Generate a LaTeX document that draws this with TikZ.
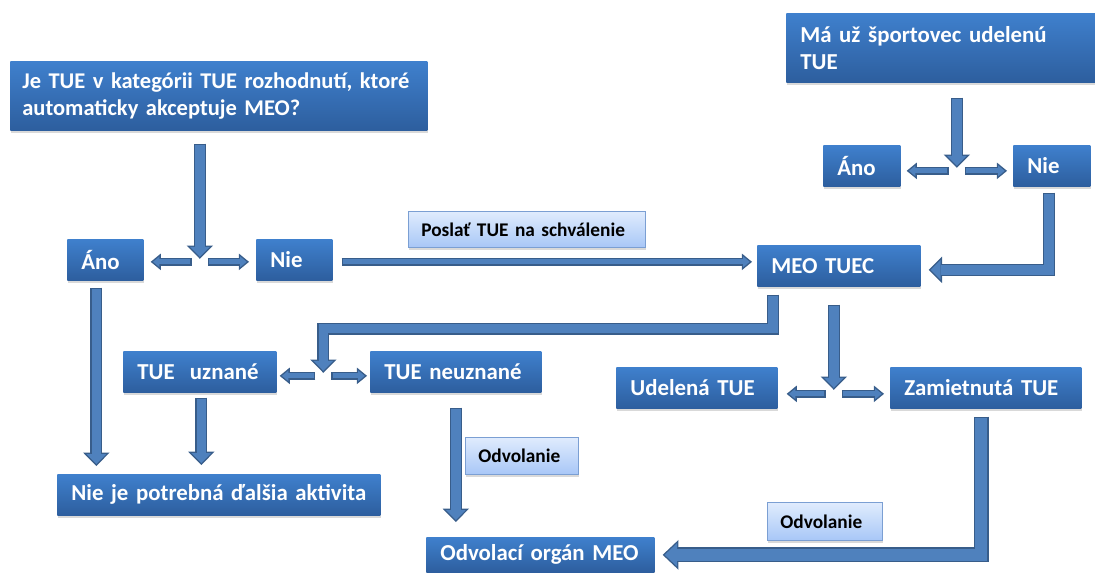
\documentclass[tikz,border=0pt]{standalone}
\usepackage{fontspec}
\setmainfont{Carlito}
\usepackage{tikz}
\usetikzlibrary{arrows.meta,positioning,shadows,calc}

\definecolor{boxtop}{HTML}{3F80CD}
\definecolor{boxbot}{HTML}{2D5E9E}
\definecolor{lbltop}{HTML}{E0ECFD}
\definecolor{lblbot}{HTML}{A8C7F7}
\definecolor{lblline}{HTML}{7B9FD3}
\definecolor{arrline}{HTML}{385D8A}
\definecolor{arrfill}{HTML}{4F81BD}

\newcommand{\blkarrow}[2]{\draw[#1 out] #2; \draw[#1 in] #2;}

\begin{document}
\begin{tikzpicture}[
  x=0.02cm, y=-0.02cm,
  box/.style={anchor=north west, top color=boxtop, bottom color=boxbot,
              text=white, font=\bfseries\fontsize{13}{15.5}\selectfont,
              align=left, inner xsep=0.28cm, inner ysep=0pt,
              minimum height=0.82cm,
              drop shadow={shadow xshift=0.6pt, shadow yshift=-1.6pt, opacity=0.3}},
  lbl/.style={anchor=north west, draw=lblline, top color=lbltop, bottom color=lblbot,
              font=\bfseries\fontsize{11}{13}\selectfont, align=left,
              inner xsep=0.26cm, inner ysep=0pt, minimum height=0.74cm,
              drop shadow={shadow xshift=0.6pt, shadow yshift=-1.6pt, opacity=0.3}},
  big out/.style={draw=arrline, line width=7pt,
                  -{Triangle[length=7.6pt, width=15pt, line width=0pt]}},
  big in/.style={draw=arrfill, line width=5.4pt, shorten <=0.8pt, shorten >=1.14pt,
                 -{Triangle[length=5.66pt, width=11.2pt, line width=0pt]}},
  small out/.style={draw=arrline, line width=4.6pt,
                    -{Triangle[length=5.8pt, width=9.5pt, line width=0pt]}},
  small in/.style={draw=arrfill, line width=3pt, shorten <=0.8pt, shorten >=1.3pt,
                   -{Triangle[length=3.7pt, width=6.1pt, line width=0pt]}},
  huge out/.style={draw=arrline, line width=8.5pt,
                   -{Triangle[length=9pt, width=17pt, line width=0pt]}},
  huge in/.style={draw=arrfill, line width=6.9pt, shorten <=0.8pt, shorten >=1.16pt,
                  -{Triangle[length=7.04pt, width=13.3pt, line width=0pt]}}
]
\useasboundingbox (0,0) rectangle (1095,572);

\node[box, minimum height=1.38cm, inner xsep=0.24cm, text width=7.86cm,
      font=\bfseries\fontsize{12.8}{15.5}\selectfont] (q1) at (10,61)
  {Je TUE v kategórii TUE rozhodnutí, ktoré\\automaticky akceptuje MEO?};
\node[box, minimum height=1.38cm, text width=5.64cm] (q2) at (786,13)
  {Má už športovec udelenú\\TUE};
\node[box, text width=0.96cm] (ano1) at (67,239) {Áno};
\node[box, text width=0.96cm] (nie1) at (256,239) {Nie};
\node[box, text width=0.98cm] (ano2) at (823,145) {Áno};
\node[box, text width=0.98cm] (nie2) at (1013,145) {Nie};
\node[box, text width=2.70cm] (meo) at (757,245) {MEO TUEC};
\node[box, text width=2.50cm] (uzn) at (123,351) {TUE\ \ uznané};
\node[box, text width=2.86cm] (neuzn) at (370,351) {TUE neuznané};
\node[box, text width=2.66cm] (udel) at (616,367) {Udelená TUE};
\node[box, text width=3.26cm] (zam) at (890,367) {Zamietnutá TUE};
\node[box, text width=5.90cm] (nieje) at (57,474) {Nie je potrebná ďalšia aktivita};
\node[box, minimum height=0.70cm, text width=4.00cm] (odv) at (426,537) {Odvolací orgán MEO};

\node[lbl, minimum height=0.72cm, text width=4.22cm] (posl) at (408,211) {Poslať TUE na schválenie};
\node[lbl, text width=1.74cm] (odvl1) at (465,437) {Odvolanie};
\node[lbl, minimum height=0.76cm, text width=1.78cm] (odvl2) at (767,502) {Odvolanie};

\coordinate (s1) at ($(ano1.east)!0.5!(nie1.west)$);
\coordinate (s2) at ($(ano2.east)!0.5!(nie2.west)$);
\coordinate (s3) at ($(uzn.east)!0.5!(neuzn.west)$);
\coordinate (s4) at ($(udel.east)!0.5!(zam.west)$);

\blkarrow{big}{($(q1.south -| s1)+(0,13)$) -- ($(s1)+(0,-1)$)}
\blkarrow{small}{($(s1)+(-8,2)$) -- ($(ano1.east |- s1)+(7,2)$)}
\blkarrow{small}{($(s1)+(8,2)$) -- ($(nie1.west |- s1)+(-7,2)$)}
\blkarrow{small}{($(nie1.east)+(9,2)$) -- ($(nie1.east -| meo.west)+(-5,2)$)}

\blkarrow{big}{($(q2.south -| s2)+(0,15)$) -- ($(s2)+(0,2)$)}
\blkarrow{small}{($(s2)+(-8,5)$) -- ($(ano2.east |- s2)+(6,5)$)}
\blkarrow{small}{($(s2)+(8,5)$) -- ($(nie2.west |- s2)+(-6,5)$)}
\blkarrow{big}{($(nie2.south)+(-3,6)$) |- ($(meo.east)+(8,4)$)}

\blkarrow{big}{($(meo.south)+(-66,8)$) -- ++(0,34) -| ($(s3)+(0,1)$)}
\blkarrow{small}{($(s3)+(-8,4)$) -- ($(uzn.east |- s3)+(3,4)$)}
\blkarrow{small}{($(s3)+(8,4)$) -- ($(neuzn.west |- s3)+(-3,4)$)}

\blkarrow{big}{($(meo.south -| s4)+(0,18)$) -- ($(s4)+(0,2)$)}
\blkarrow{small}{($(s4)+(-8,6)$) -- ($(udel.east |- s4)+(9,6)$)}
\blkarrow{small}{($(s4)+(8,6)$) -- ($(zam.west |- s4)+(-6,6)$)}

\blkarrow{big}{($(ano1.south)+(-9,7)$) -- ($(ano1.south |- nieje.north)+(-9,-8)$)}
\blkarrow{big}{($(uzn.south)+(1.5,5)$) -- ($(uzn.south |- nieje.north)+(1.5,-9)$)}
\blkarrow{big}{($(neuzn.south)+(0,15)$) -- ($(neuzn.south |- odv.north)+(0,-15)$)}
\blkarrow{huge}{($(zam.south)+(-4.5,8)$) |- ($(odv.east)+(8,0)$)}
\end{tikzpicture}
\end{document}
